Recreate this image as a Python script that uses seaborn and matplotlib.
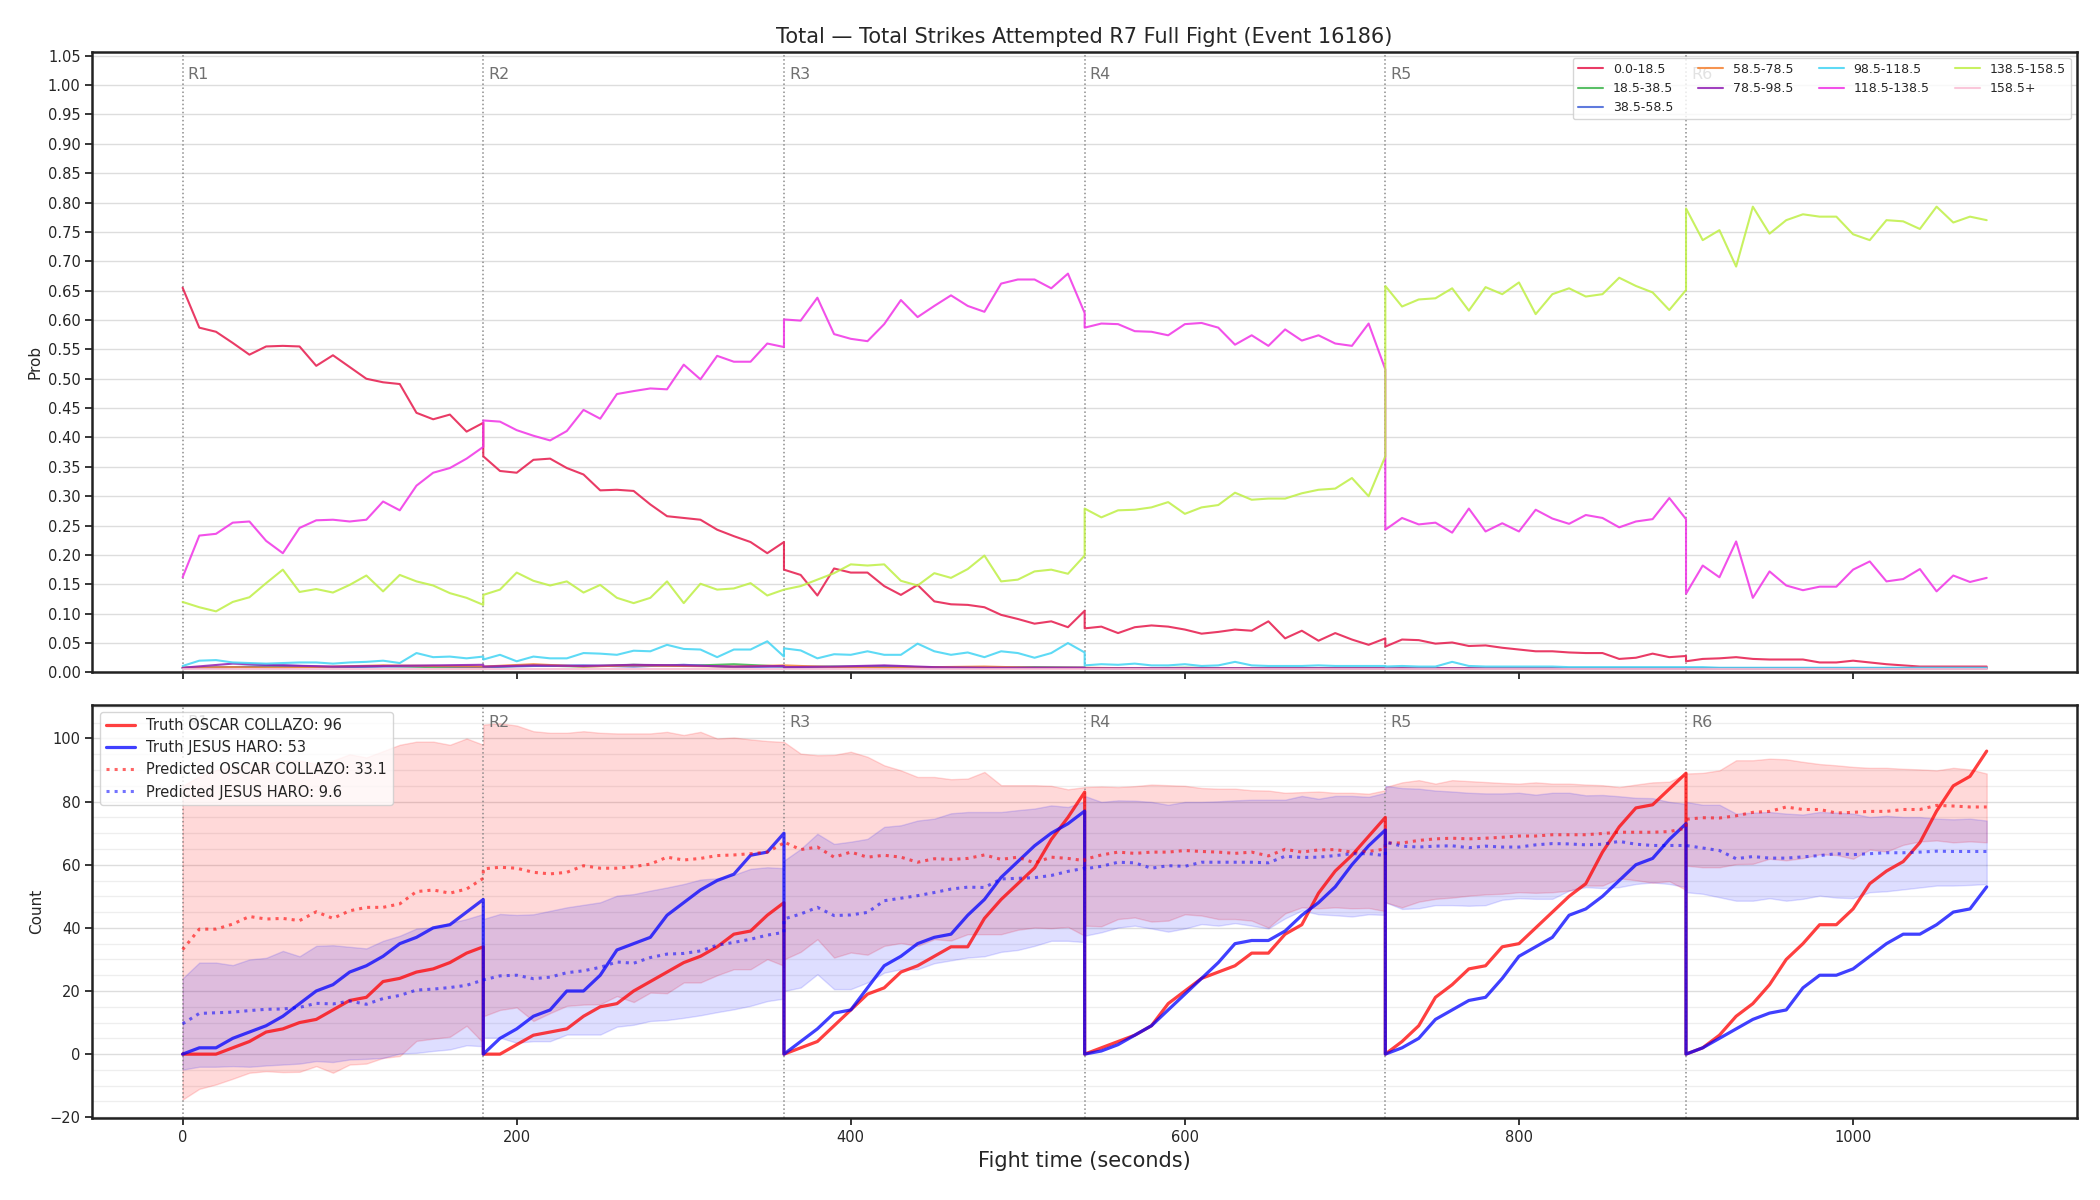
import matplotlib
matplotlib.use("Agg")
import matplotlib.pyplot as plt
from matplotlib.ticker import MultipleLocator, FormatStrFormatter
import numpy as np
import seaborn as sns

# Fight layout: 6 rounds of 180 s, values sampled within each round
ROUND_LEN = 180
ROUND_NAMES = ["R1", "R2", "R3", "R4", "R5", "R6"]
FINE_OFFSETS = list(range(0, 181, 10))
COARSE_OFFSETS = list(range(0, 181, 30))

# Probability per strike-count bin (top panel), one list per round
BIN_LABELS = ["0.0-18.5", "18.5-38.5", "38.5-58.5", "58.5-78.5", "78.5-98.5",
              "98.5-118.5", "118.5-138.5", "138.5-158.5", "158.5+"]
BIN_COLORS = ["#e6194B", "#3cb44b", "#4363d8", "#f58231", "#911eb4",
              "#42d4f4", "#f032e6", "#bfef45", "#fabed4"]

p_0_18 = [
    [0.655, 0.587, 0.58, 0.561, 0.541, 0.555, 0.556, 0.555, 0.522, 0.54, 0.52, 0.50, 0.494, 0.491, 0.442, 0.431, 0.439, 0.41, 0.425],
    [0.368, 0.343, 0.34, 0.362, 0.364, 0.348, 0.337, 0.31, 0.311, 0.309, 0.286, 0.266, 0.263, 0.26, 0.243, 0.232, 0.222, 0.203, 0.222],
    [0.175, 0.166, 0.131, 0.177, 0.17, 0.17, 0.147, 0.132, 0.149, 0.121, 0.116, 0.115, 0.111, 0.098, 0.091, 0.083, 0.087, 0.077, 0.105],
    [0.075, 0.078, 0.067, 0.077, 0.08, 0.078, 0.073, 0.066, 0.069, 0.073, 0.071, 0.087, 0.058, 0.071, 0.054, 0.067, 0.056, 0.047, 0.058],
    [0.044, 0.056, 0.055, 0.049, 0.051, 0.045, 0.046, 0.042, 0.039, 0.036, 0.036, 0.034, 0.033, 0.033, 0.023, 0.025, 0.032, 0.026, 0.028],
    [0.019, 0.023, 0.024, 0.026, 0.023, 0.022, 0.022, 0.022, 0.017, 0.017, 0.02, 0.017, 0.014, 0.012, 0.01, 0.01, 0.01, 0.01, 0.01],
]
p_18_38 = [
    [0.008, 0.009, 0.01, 0.009, 0.011, 0.009, 0.009],
    [0.009, 0.012, 0.01, 0.013, 0.011, 0.014, 0.01],
    [0.009, 0.01, 0.009, 0.009, 0.008, 0.009, 0.008],
    [0.007, 0.007, 0.008, 0.007, 0.007, 0.007, 0.007],
    [0.007, 0.007, 0.007, 0.007, 0.007, 0.007, 0.007],
    [0.007, 0.007, 0.007, 0.007, 0.007, 0.007, 0.007],
]
p_38_58 = [
    [0.007, 0.009, 0.012, 0.009, 0.01, 0.011, 0.009],
    [0.009, 0.011, 0.012, 0.01, 0.013, 0.009, 0.01],
    [0.008, 0.009, 0.011, 0.008, 0.008, 0.008, 0.008],
    [0.007, 0.007, 0.007, 0.007, 0.007, 0.007, 0.007],
    [0.007, 0.007, 0.007, 0.007, 0.007, 0.007, 0.007],
    [0.007, 0.007, 0.007, 0.007, 0.007, 0.007, 0.007],
]
p_58_78 = [
    [0.008, 0.009, 0.008, 0.01, 0.012, 0.011, 0.01],
    [0.01, 0.014, 0.01, 0.012, 0.011, 0.01, 0.012],
    [0.012, 0.009, 0.008, 0.009, 0.01, 0.008, 0.008],
    [0.008, 0.007, 0.007, 0.007, 0.007, 0.007, 0.007],
    [0.007, 0.007, 0.007, 0.007, 0.007, 0.007, 0.007],
    [0.007, 0.007, 0.007, 0.007, 0.007, 0.007, 0.007],
]
p_78_98 = [
    [0.008, 0.015, 0.012, 0.01, 0.011, 0.012, 0.013],
    [0.01, 0.012, 0.011, 0.013, 0.012, 0.01, 0.011],
    [0.009, 0.01, 0.012, 0.009, 0.008, 0.008, 0.008],
    [0.007, 0.007, 0.007, 0.007, 0.007, 0.007, 0.007],
    [0.007, 0.007, 0.007, 0.007, 0.007, 0.007, 0.007],
    [0.007, 0.007, 0.007, 0.007, 0.007, 0.007, 0.007],
]
p_98_118 = [
    [0.011, 0.02, 0.021, 0.017, 0.016, 0.015, 0.016, 0.017, 0.017, 0.015, 0.017, 0.018, 0.02, 0.016, 0.033, 0.026, 0.027, 0.024, 0.027],
    [0.022, 0.03, 0.019, 0.027, 0.024, 0.024, 0.033, 0.032, 0.03, 0.037, 0.036, 0.047, 0.04, 0.039, 0.026, 0.039, 0.039, 0.053, 0.027],
    [0.041, 0.0375, 0.024, 0.031, 0.03, 0.036, 0.03, 0.03, 0.049, 0.036, 0.03, 0.034, 0.026, 0.036, 0.033, 0.025, 0.033, 0.05, 0.034],
    [0.012, 0.014, 0.013, 0.015, 0.012, 0.012, 0.014, 0.011, 0.012, 0.018, 0.012, 0.011, 0.011, 0.011, 0.012, 0.011, 0.011, 0.011, 0.011],
    [0.01, 0.011, 0.01, 0.01, 0.018, 0.011, 0.01, 0.01, 0.01, 0.01, 0.01, 0.009, 0.009, 0.009, 0.009, 0.009, 0.009, 0.009, 0.009],
    [0.009, 0.009, 0.008, 0.008, 0.008, 0.008, 0.008, 0.008, 0.008, 0.008, 0.008, 0.008, 0.008, 0.008, 0.008, 0.008, 0.008, 0.008, 0.008],
]
p_118_138 = [
    [0.162, 0.233, 0.236, 0.255, 0.257, 0.224, 0.203, 0.246, 0.259, 0.26, 0.257, 0.26, 0.291, 0.276, 0.318, 0.34, 0.348, 0.364, 0.384],
    [0.429, 0.427, 0.4125, 0.403, 0.395, 0.411, 0.447, 0.432, 0.474, 0.479, 0.4835, 0.482, 0.524, 0.499, 0.539, 0.529, 0.529, 0.56, 0.554],
    [0.601, 0.599, 0.638, 0.576, 0.568, 0.564, 0.593, 0.634, 0.605, 0.624, 0.642, 0.624, 0.614, 0.662, 0.669, 0.669, 0.654, 0.679, 0.612],
    [0.587, 0.594, 0.593, 0.581, 0.58, 0.574, 0.593, 0.595, 0.587, 0.558, 0.574, 0.556, 0.584, 0.565, 0.574, 0.56, 0.556, 0.594, 0.516],
    [0.243, 0.263, 0.252, 0.255, 0.238, 0.279, 0.24, 0.254, 0.24, 0.277, 0.262, 0.253, 0.268, 0.263, 0.247, 0.257, 0.261, 0.297, 0.261],
    [0.134, 0.182, 0.162, 0.223, 0.127, 0.172, 0.148, 0.14, 0.146, 0.146, 0.175, 0.189, 0.155, 0.159, 0.176, 0.138, 0.165, 0.154, 0.161],
]
p_138_158 = [
    [0.12, 0.111, 0.104, 0.12, 0.128, 0.152, 0.175, 0.137, 0.142, 0.136, 0.149, 0.165, 0.138, 0.166, 0.155, 0.148, 0.135, 0.127, 0.115],
    [0.132, 0.141, 0.17, 0.156, 0.148, 0.155, 0.136, 0.149, 0.127, 0.118, 0.127, 0.155, 0.118, 0.151, 0.141, 0.143, 0.152, 0.131, 0.141],
    [0.141, 0.147, 0.158, 0.169, 0.184, 0.182, 0.184, 0.156, 0.148, 0.169, 0.161, 0.176, 0.199, 0.155, 0.158, 0.172, 0.175, 0.168, 0.199],
    [0.279, 0.264, 0.276, 0.277, 0.281, 0.29, 0.27, 0.281, 0.285, 0.306, 0.294, 0.296, 0.296, 0.305, 0.311, 0.313, 0.331, 0.3, 0.368],
    [0.658, 0.623, 0.635, 0.637, 0.654, 0.616, 0.656, 0.644, 0.664, 0.61, 0.644, 0.654, 0.64, 0.644, 0.672, 0.658, 0.647, 0.617, 0.651],
    [0.79, 0.736, 0.753, 0.691, 0.793, 0.747, 0.77, 0.78, 0.776, 0.776, 0.746, 0.736, 0.77, 0.768, 0.755, 0.793, 0.766, 0.776, 0.77],
]
p_158_up = [
    [0.006, 0.006, 0.006, 0.006, 0.006, 0.006, 0.006],
    [0.006, 0.006, 0.006, 0.006, 0.006, 0.006, 0.006],
    [0.006, 0.006, 0.006, 0.006, 0.006, 0.006, 0.006],
    [0.006, 0.006, 0.006, 0.006, 0.006, 0.006, 0.006],
    [0.006, 0.006, 0.006, 0.006, 0.006, 0.006, 0.006],
    [0.006, 0.006, 0.006, 0.006, 0.006, 0.006, 0.006],
]

# Cumulative counts (bottom panel), one list per round
FIGHTER_A = "OSCAR COLLAZO"
FIGHTER_B = "JESUS HARO"

truth_a = [
    [0, 0, 0, 2, 4, 7, 8, 10, 11, 14, 17, 18, 23, 24, 26, 27, 29, 32, 34],
    [0, 0, 3, 6, 7, 8, 12, 15, 16, 20, 23, 26, 29, 31, 34, 38, 39, 44, 48],
    [0, 2, 4, 9, 14, 19, 21, 26, 28, 31, 34, 34, 43, 49, 54, 59, 68, 75, 83],
    [0, 2, 4, 6, 9, 16, 20, 24, 26, 28, 32, 32, 38, 41, 51, 58, 63, 69, 75],
    [0, 4, 9, 18, 22, 27, 28, 34, 35, 40, 45, 50, 54, 64, 72, 78, 79, 84, 89],
    [0, 2, 6, 12, 16, 22, 30, 35, 41, 41, 46, 54, 58, 61, 67, 77, 85, 88, 96],
]
truth_b = [
    [0, 2, 2, 5, 7, 9, 12, 16, 20, 22, 26, 28, 31, 35, 37, 40, 41, 45, 49],
    [0, 5, 8, 12, 14, 20, 20, 25, 33, 35, 37, 44, 48, 52, 55, 57, 63, 64, 70],
    [0, 4, 8, 13, 14, 21, 28, 31, 35, 37, 38, 44, 49, 56, 61, 66, 70, 73, 77],
    [0, 1, 3, 6, 9, 14, 19, 24, 29, 35, 36, 36, 39, 44, 48, 53, 60, 66, 71],
    [0, 2, 5, 11, 14, 17, 18, 24, 31, 34, 37, 44, 46, 50, 55, 60, 62, 68, 73],
    [0, 2, 5, 8, 11, 13, 14, 21, 25, 25, 27, 31, 35, 38, 38, 41, 45, 46, 53],
]
pred_a = [
    [33.1, 39.6, 39.6, 41.2, 43.6, 42.8, 43.0, 42.3, 45.1, 43.0, 45.4, 46.5, 46.5, 47.6, 51.5, 52.0, 51.0, 52.3, 55.7],
    [58.7, 59.2, 58.9, 57.6, 57.1, 57.6, 59.7, 58.9, 58.9, 59.4, 60.2, 62.4, 61.5, 62.0, 62.9, 63.1, 63.5, 64.0, 66.9],
    [67.2, 64.8, 65.6, 62.4, 64.0, 62.4, 63.0, 62.4, 60.8, 61.9, 61.7, 62.0, 63.1, 61.7, 62.4, 60.6, 62.4, 62.0, 61.3],
    [61.7, 63.1, 64.0, 63.6, 64.0, 64.0, 64.5, 64.2, 64.0, 63.6, 64.0, 62.8, 64.9, 64.0, 64.7, 64.8, 64.0, 64.2, 65.0],
    [66.9, 66.9, 67.7, 68.2, 68.4, 68.2, 68.4, 68.7, 69.1, 69.1, 69.5, 69.5, 69.5, 69.9, 70.3, 70.3, 70.3, 70.5, 71.6],
    [74.4, 74.9, 74.8, 75.5, 76.6, 76.9, 78.3, 77.5, 77.5, 76.4, 76.6, 76.9, 76.9, 77.5, 77.5, 78.8, 78.6, 78.3, 78.3],
]
pred_b = [
    [9.6, 12.9, 13.1, 13.3, 13.8, 14.2, 14.3, 14.8, 16.1, 15.9, 16.8, 15.8, 17.6, 18.6, 20.3, 20.6, 21.1, 21.8, 23.5],
    [23.5, 24.8, 25.0, 23.9, 24.4, 25.8, 26.4, 27.5, 29.2, 28.8, 30.6, 31.7, 31.9, 32.7, 34.5, 35.4, 36.4, 37.7, 38.6],
    [42.8, 44.4, 46.5, 43.9, 44.1, 44.9, 48.6, 49.4, 50.2, 51.2, 52.3, 52.9, 52.8, 55.5, 55.7, 55.9, 56.6, 57.9, 58.9],
    [58.7, 59.5, 60.8, 60.6, 58.9, 59.7, 59.5, 60.8, 60.8, 60.8, 60.8, 60.6, 62.7, 62.3, 62.4, 62.9, 63.5, 63.5, 62.9],
    [67.2, 65.9, 65.6, 65.9, 66.0, 65.4, 65.9, 65.6, 65.6, 66.3, 66.7, 66.6, 66.3, 66.5, 67.4, 66.5, 66.1, 66.1, 66.1],
    [66.1, 65.3, 64.5, 61.9, 62.6, 62.1, 62.1, 62.5, 62.9, 63.5, 63.2, 63.5, 63.8, 63.8, 64.0, 64.3, 64.2, 64.2, 64.2],
]
band_a_hi = [
    [85, 88, 90, 91, 92, 92, 93, 93, 92, 93, 95, 94, 96, 98, 99, 99, 98, 100, 98],
    [104.4, 104.8, 104.1, 102.3, 101.8, 101.8, 102.3, 101.8, 101.6, 101.6, 101.6, 102.1, 101.1, 102.1, 100.0, 100.3, 99.7, 99.2, 98.9],
    [98.9, 95.2, 94.7, 94.8, 95.8, 94.2, 91.5, 89.9, 87.8, 87.8, 87.1, 87.3, 89.4, 85.2, 85.2, 85.2, 85.0, 83.9, 84.6],
    [84.6, 84.8, 84.6, 84.9, 85.4, 85.2, 85.0, 84.3, 84.1, 84.1, 83.6, 83.5, 82.8, 83.0, 83.2, 82.8, 82.8, 82.5, 83.6],
    [84.6, 86.1, 86.8, 85.7, 86.8, 86.5, 86.2, 85.9, 85.7, 86.1, 85.7, 85.7, 85.4, 85.2, 84.6, 85.4, 86.1, 86.3, 88.9],
    [88.9, 89.1, 89.9, 93.1, 93.1, 93.6, 93.4, 92.6, 91.9, 91.5, 91.0, 90.7, 90.7, 90.4, 90.2, 89.9, 90.7, 90.2, 88.9],
]
band_a_lo = [
    [-14.4, -11, -9.6, -7.8, -5.9, -5.4, -5.7, -5.6, -3.8, -5.9, -3.3, -3.0, -1.2, -0.6, 4.2, 4.9, 5.5, 9.0, 3.6],
    [12, 14, 14.8, 10.5, 13, 15.3, 15.7, 15.8, 18.4, 16.5, 19.5, 19.3, 22.7, 22.7, 25, 26.9, 26.9, 30.1, 28],
    [30, 32.4, 36.4, 30.6, 32.2, 31.5, 34.3, 35.2, 34.3, 36.4, 36, 38, 38, 38, 39.4, 40.1, 39.9, 40.3, 37.5],
    [40.7, 40.5, 42.8, 43.3, 42, 42.3, 44.3, 43.9, 42.8, 42.8, 42.3, 40.1, 44.6, 46.5, 46.2, 46.5, 46.2, 46.3, 45.3],
    [48.1, 46.5, 48.3, 49.2, 49.6, 50.2, 50.6, 50.8, 51.3, 51.1, 51.3, 51.8, 53.4, 53.4, 55.7, 55.1, 54.3, 54.8, 52],
    [59.7, 59.2, 59.2, 60.2, 60.3, 61.9, 61.4, 62.1, 63.3, 63.1, 61.9, 64.8, 64.2, 66.3, 67.4, 67.7, 67.1, 67.4, 67.1],
]
band_b_hi = [
    [24, 29, 29, 28.2, 30, 30.5, 32.7, 31, 34.3, 34.5, 34, 33.5, 35.9, 37.5, 39.8, 40.1, 41.5, 42.8, 44.4],
    [42.8, 44.4, 44.1, 44.3, 45.4, 46.5, 47.3, 48.1, 50.2, 50.7, 51.8, 52.8, 53.9, 55.3, 55.7, 56.8, 58.7, 59.2, 58.9],
    [61.3, 65, 69.8, 66.6, 67.3, 68.2, 72, 72.5, 74, 74.6, 76.3, 76.7, 76.7, 76.7, 77.3, 77.8, 78.8, 78.3, 80],
    [81.8, 79.9, 80.4, 80.3, 79.9, 79, 79.9, 79.9, 80.1, 80.4, 80.6, 80.6, 80.6, 81.8, 80.9, 81.8, 81.8, 81.5, 82.8],
    [85, 84.3, 84.1, 83.5, 83.2, 82.8, 82.6, 82.6, 82.8, 82.2, 82.8, 82.8, 82, 82.1, 81.7, 81.2, 81.1, 79.9, 79.3],
    [79.9, 79, 79, 76.2, 76.5, 76.7, 76.2, 75.9, 76.7, 76.5, 76.2, 75.1, 75.5, 75.1, 75.1, 74.6, 74.4, 74.6, 74],
]
band_b_lo = [
    [-4.9, -4, -4, -3.8, -4, -3.6, -3.3, -3, -2.2, -2.5, -1.7, -1.5, -1.2, 0.2, 0.4, 1, 1.5, 2.8, 2.5],
    [5.2, 5.2, 3.6, 4.1, 4.1, 6.2, 6.2, 6.2, 8.7, 9.3, 10.5, 10.8, 11.5, 12.3, 13.3, 14.2, 15.3, 16.8, 17.6],
    [20, 21.1, 25.3, 20.6, 20.6, 22.7, 25.8, 26.9, 26.9, 28.8, 29.7, 30.6, 31, 32.4, 33, 34.3, 35.9, 35.9, 35.5],
    [37.5, 38.6, 40.1, 40.7, 39.8, 38.8, 39.8, 41.2, 40.7, 41.5, 40.7, 39.8, 43, 45.5, 44.3, 44, 43.6, 44.3, 44.1],
    [48.1, 46, 46.2, 47.2, 47.2, 47, 47.2, 48.9, 49.4, 49.2, 49.2, 51.8, 52.9, 52.6, 52.9, 53.9, 54.4, 53.9, 52.9],
    [51.3, 50.8, 49.7, 48.6, 48.6, 49.4, 48.6, 49.2, 50.2, 49.6, 49.4, 51.3, 51.6, 52.2, 52.8, 53.4, 53.4, 53.6, 53.9],
]


def stitch(rounds, offsets=FINE_OFFSETS):
    # join the per-round lists into one time axis (rounds share their boundary second)
    t, v = [], []
    for r, vals in enumerate(rounds):
        t += [r * ROUND_LEN + o for o in offsets]
        v += list(vals)
    return np.array(t, dtype=float), np.array(v, dtype=float)


sns.set_style("ticks")
fig, (ax1, ax2) = plt.subplots(2, 1, figsize=(21, 12), dpi=100, sharex=True,
                               gridspec_kw={"height_ratios": [3, 2]})
fig.subplots_adjust(left=0.044, right=0.989, top=0.957, bottom=0.068, hspace=0.062)

# --- top panel: bin probabilities
prob_series = [
    (p_0_18, FINE_OFFSETS), (p_18_38, COARSE_OFFSETS), (p_38_58, COARSE_OFFSETS),
    (p_58_78, COARSE_OFFSETS), (p_78_98, COARSE_OFFSETS), (p_98_118, FINE_OFFSETS),
    (p_118_138, FINE_OFFSETS), (p_138_158, FINE_OFFSETS), (p_158_up, COARSE_OFFSETS),
]
for label, color, (rounds, offs) in zip(BIN_LABELS, BIN_COLORS, prob_series):
    t, v = stitch(rounds, offs)
    sns.lineplot(x=t, y=v, ax=ax1, color=color, alpha=0.85, linewidth=1.5,
                 label=label, estimator=None, sort=False)

ax1.set_ylim(0, 1.057)
ax1.yaxis.set_major_locator(MultipleLocator(0.05))
ax1.yaxis.set_major_formatter(FormatStrFormatter("%.2f"))
ax1.set_ylabel("Prob", fontsize=11)
ax1.set_title("Total \u2014 Total Strikes Attempted R7 Full Fight (Event 16186)", fontsize=15)
ax1.legend(loc="upper right", ncol=4, fontsize=9, frameon=True)

# --- bottom panel: truth vs predicted counts
t, lo = stitch(band_a_lo)
_, hi = stitch(band_a_hi)
ax2.fill_between(t, lo, hi, color="red", alpha=0.15, linewidth=1)
t, lo = stitch(band_b_lo)
_, hi = stitch(band_b_hi)
ax2.fill_between(t, lo, hi, color="blue", alpha=0.13, linewidth=1)

t, v = stitch(truth_a)
sns.lineplot(x=t, y=v, ax=ax2, color="red", alpha=0.75, linewidth=2.3,
             label=f"Truth {FIGHTER_A}: {truth_a[-1][-1]}", estimator=None, sort=False)
t, v = stitch(truth_b)
sns.lineplot(x=t, y=v, ax=ax2, color="blue", alpha=0.75, linewidth=2.3,
             label=f"Truth {FIGHTER_B}: {truth_b[-1][-1]}", estimator=None, sort=False)
t, v = stitch(pred_a)
sns.lineplot(x=t, y=v, ax=ax2, color="red", alpha=0.6, linewidth=2.2, linestyle=":",
             label=f"Predicted {FIGHTER_A}: {pred_a[0][0]:.1f}", estimator=None, sort=False)
t, v = stitch(pred_b)
sns.lineplot(x=t, y=v, ax=ax2, color="blue", alpha=0.55, linewidth=2.2, linestyle=":",
             label=f"Predicted {FIGHTER_B}: {pred_b[0][0]:.1f}", estimator=None, sort=False)

ax2.yaxis.set_major_locator(MultipleLocator(20))
ax2.yaxis.set_minor_locator(MultipleLocator(5))
ax2.xaxis.set_major_locator(MultipleLocator(200))
ax2.set_ylabel("Count", fontsize=11)
ax2.set_xlabel("Fight time (seconds)", fontsize=15)
ax2.legend(loc="upper left", fontsize=10.5, frameon=True)

# round markers, grids and frame styling on both panels
for ax in (ax1, ax2):
    for r, name in enumerate(ROUND_NAMES):
        x0 = r * ROUND_LEN
        ax.axvline(x0, color="gray", linestyle=":", linewidth=1.1, alpha=0.9, zorder=1)
        ax.text(x0 + 3, 0.975, name, transform=ax.get_xaxis_transform(),
                ha="left", va="top", color="#707070", fontsize=11.5, zorder=2)
    ax.set_axisbelow(True)
    ax.yaxis.grid(True, which="major", color="#dddddd", linewidth=1)
    for side in ax.spines.values():
        side.set_linewidth(1.8)
        side.set_color("#222222")
    ax.tick_params(axis="both", which="major", labelsize=10.5, length=5, width=1.3)
ax2.yaxis.grid(True, which="minor", color="#eeeeee", linewidth=0.9)
ax2.tick_params(axis="y", which="minor", length=0)

fig.savefig("out.png", dpi=100)
